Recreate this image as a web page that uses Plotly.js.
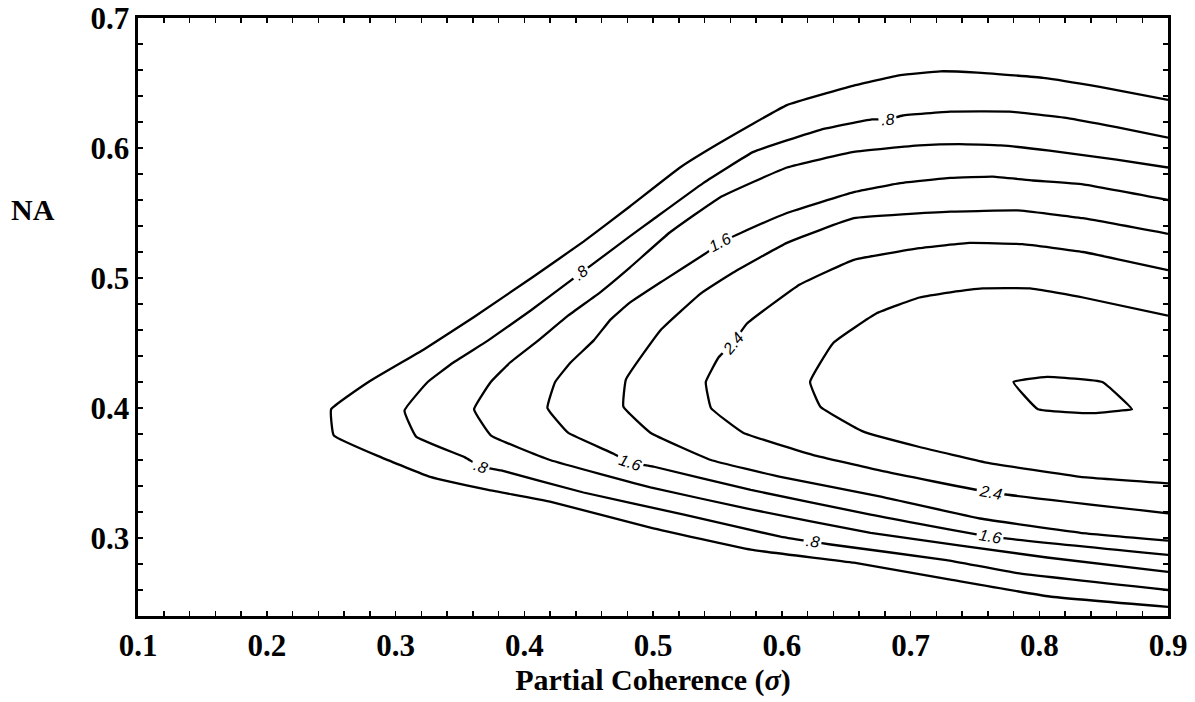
<!DOCTYPE html>
<html>
<head>
<meta charset="utf-8">
<script src="https://cdn.plot.ly/plotly-3.0.1.min.js"></script>
<style>
html,body{margin:0;padding:0;background:#fff;}
#chart{width:1195px;height:702px;}
</style>
</head>
<body>
<div id="chart"></div>
<script>
// Contour levels
const contourLevels = [0.4, 0.8, 1.2, 1.6, 2.0, 2.4, 2.8, 3.2];

// Contour paths: x = partial coherence (sigma), y = NA
const c04x = [0.900, 0.847, 0.803, 0.752, 0.723, 0.692, 0.656, 0.604, 0.552, 0.521, 0.482, 0.446, 0.407, 0.361, 0.322, 0.279, 0.250, 0.252, 0.289, 0.327, 0.372, 0.420, 0.498, 0.576, 0.656, 0.731, 0.808, 0.900];
const c04y = [0.637, 0.647, 0.654, 0.658, 0.659, 0.656, 0.648, 0.633, 0.604, 0.585, 0.555, 0.528, 0.501, 0.470, 0.445, 0.420, 0.399, 0.379, 0.362, 0.347, 0.337, 0.328, 0.308, 0.291, 0.281, 0.268, 0.255, 0.247];

const c08x = [0.900, 0.860, 0.822, 0.777, 0.731, 0.694, 0.682, 0.670, 0.630, 0.578, 0.539, 0.500, 0.482, 0.455, 0.444, 0.436, 0.405, 0.372, 0.345, 0.325, 0.307, 0.316, 0.354, 0.366, 0.382, 0.446, 0.524, 0.599, 0.624, 0.638, 0.728, 0.783, 0.900];
const c08y = [0.608, 0.616, 0.623, 0.628, 0.628, 0.625, 0.622, 0.622, 0.614, 0.597, 0.573, 0.545, 0.532, 0.512, 0.504, 0.498, 0.475, 0.452, 0.435, 0.420, 0.398, 0.378, 0.362, 0.355, 0.352, 0.335, 0.318, 0.301, 0.297, 0.295, 0.283, 0.273, 0.260];

const c12x = [0.900, 0.860, 0.808, 0.770, 0.738, 0.707, 0.656, 0.604, 0.552, 0.513, 0.482, 0.459, 0.434, 0.411, 0.389, 0.374, 0.361, 0.374, 0.420, 0.498, 0.576, 0.669, 0.806, 0.900];
const c12y = [0.585, 0.591, 0.598, 0.602, 0.603, 0.602, 0.597, 0.585, 0.562, 0.535, 0.508, 0.489, 0.471, 0.452, 0.435, 0.420, 0.399, 0.379, 0.360, 0.339, 0.322, 0.304, 0.285, 0.274];

const c16x = [0.900, 0.834, 0.795, 0.764, 0.731, 0.692, 0.656, 0.604, 0.569, 0.552, 0.541, 0.508, 0.482, 0.467, 0.454, 0.436, 0.424, 0.418, 0.434, 0.469, 0.482, 0.500, 0.576, 0.669, 0.762, 0.900];
const c16y = [0.560, 0.572, 0.575, 0.578, 0.577, 0.573, 0.566, 0.550, 0.535, 0.527, 0.519, 0.498, 0.481, 0.468, 0.452, 0.435, 0.420, 0.400, 0.381, 0.365, 0.358, 0.355, 0.337, 0.318, 0.301, 0.287];

const c20x = [0.900, 0.834, 0.783, 0.731, 0.656, 0.604, 0.562, 0.537, 0.506, 0.479, 0.477, 0.498, 0.545, 0.599, 0.676, 0.754, 0.832, 0.900];
const c20y = [0.534, 0.546, 0.552, 0.551, 0.546, 0.527, 0.504, 0.488, 0.460, 0.422, 0.401, 0.381, 0.360, 0.347, 0.332, 0.315, 0.304, 0.298];

const c24x = [0.900, 0.834, 0.787, 0.746, 0.707, 0.656, 0.614, 0.573, 0.562, 0.551, 0.541, 0.545, 0.570, 0.624, 0.676, 0.762, 0.900];
const c24y = [0.506, 0.520, 0.526, 0.527, 0.523, 0.514, 0.495, 0.465, 0.450, 0.439, 0.420, 0.400, 0.381, 0.364, 0.352, 0.335, 0.319];

const c28x = [0.900, 0.834, 0.793, 0.756, 0.731, 0.707, 0.674, 0.640, 0.622, 0.630, 0.663, 0.707, 0.759, 0.832, 0.900];
const c28y = [0.471, 0.485, 0.492, 0.492, 0.489, 0.485, 0.473, 0.450, 0.420, 0.401, 0.382, 0.370, 0.358, 0.347, 0.342];

const c32x = [0.780, 0.806, 0.849, 0.872, 0.863, 0.842, 0.799, 0.780];
const c32y = [0.420, 0.424, 0.420, 0.399, 0.398, 0.396, 0.399, 0.420];

// Contour labels written on the lines
const labelText = [".8", "1.6", ".8", "2.4", ".8", "1.6", ".8", "2.4", "1.6"];
const labelX = [0.444, 0.552, 0.682, 0.562, 0.366, 0.482, 0.624, 0.762, 0.762];
const labelY = [0.504, 0.527, 0.622, 0.450, 0.355, 0.358, 0.297, 0.335, 0.301];

// Axis ticks
const xTicks = [0.1, 0.2, 0.3, 0.4, 0.5, 0.6, 0.7, 0.8, 0.9];
const yTicks = [0.3, 0.4, 0.5, 0.6, 0.7];

const paths = [
  [c04x, c04y], [c08x, c08y], [c12x, c12y], [c16x, c16y],
  [c20x, c20y], [c24x, c24y], [c28x, c28y], [c32x, c32y]
];

const traces = paths.map((p, i) => ({
  type: 'scatter', mode: 'lines', x: p[0], y: p[1],
  name: String(contourLevels[i]),
  line: {color: '#000', width: 2.3, shape: 'spline', smoothing: 0.3},
  hoverinfo: 'skip', showlegend: false
}));

const labelAngles = [-38, -28, -5, -50, 20, 19, 9, 10, 10];
const annotations = labelText.map((t, i) => ({
  x: labelX[i], y: labelY[i], xref: 'x', yref: 'y',
  text: '<i>' + t + '</i>', showarrow: false,
  textangle: labelAngles[i], bgcolor: '#fff', borderpad: 2,
  font: {family: 'Liberation Sans, Arial, sans-serif', size: 16, color: '#000'}
}));
annotations.push({
  xref: 'paper', yref: 'y', x: -0.102, y: 0.553, text: 'NA', showarrow: false,
  xanchor: 'center', yanchor: 'middle',
  font: {family: 'Liberation Serif, Times New Roman, serif', size: 30, color: '#000', weight: 'bold'}
});

const tickFont = {family: 'Liberation Serif, Times New Roman, serif', size: 31, color: '#000', weight: 'bold'};

const axisCommon = {
  ticks: 'inside', ticklen: 5, tickwidth: 1.5, tickcolor: '#000',
  showline: true, linecolor: '#000', linewidth: 2.6, mirror: 'allticks',
  showgrid: false, zeroline: false, tickfont: tickFont, tickformat: '.1f',
  fixedrange: true
};

const layout = {
  width: 1195, height: 702,
  margin: {l: 138, r: 27, t: 18, b: 86},
  paper_bgcolor: '#fff', plot_bgcolor: '#fff',
  showlegend: false,
  xaxis: Object.assign({}, axisCommon, {
    range: [0.1, 0.9], tickvals: xTicks,
    minor: {tick0: 0.1, dtick: 0.02, ticks: 'inside', ticklen: 5, tickwidth: 1.5, tickcolor: '#000', showgrid: false},
    ticklabelstandoff: 0,
    title: {text: 'Partial Coherence (<i>σ</i>)', standoff: 4,
      font: {family: 'Liberation Serif, Times New Roman, serif', size: 30, color: '#000', weight: 'bold'}}
  }),
  yaxis: Object.assign({}, axisCommon, {
    range: [0.24, 0.7], tickvals: yTicks,
    minor: {tick0: 0.3, dtick: 0.02, ticks: 'inside', ticklen: 5, tickwidth: 1.5, tickcolor: '#000', showgrid: false},
    ticklabelstandoff: 0
  }),
  annotations: annotations
};

Plotly.newPlot('chart', traces, layout, {displayModeBar: false, staticPlot: true});
</script>
</body>
</html>
